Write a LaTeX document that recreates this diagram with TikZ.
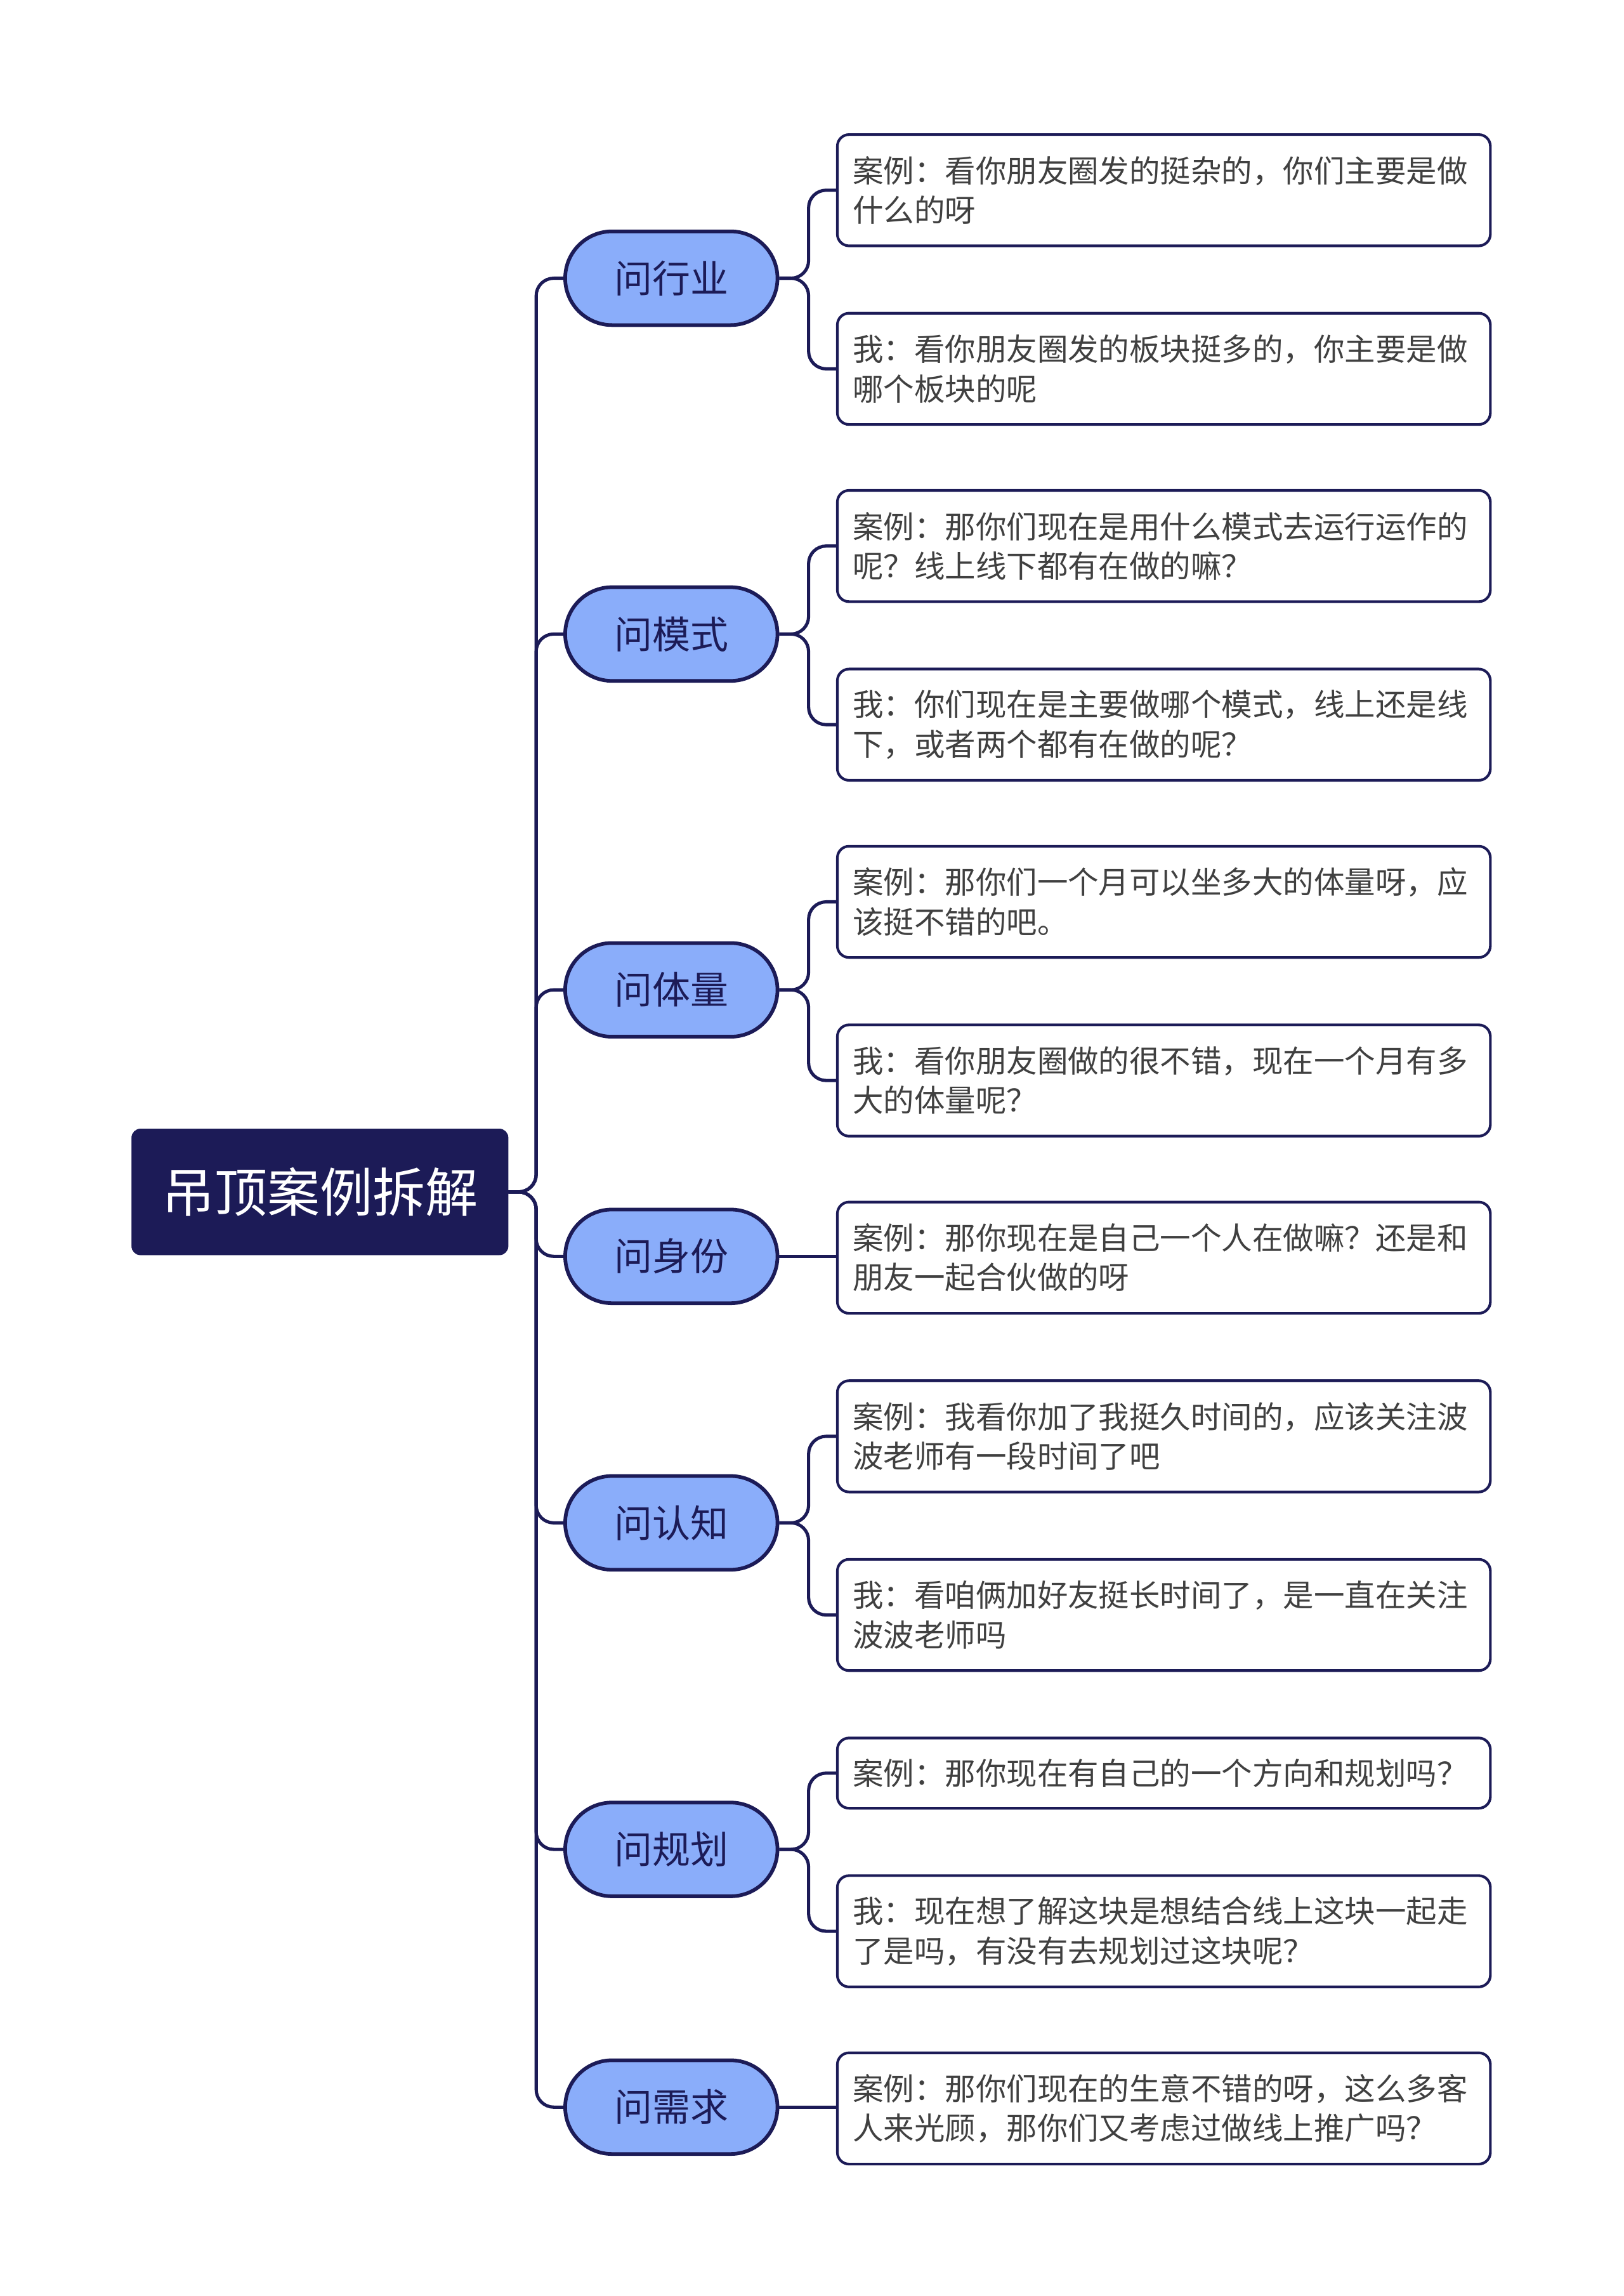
\documentclass[tikz,border=0pt]{standalone}
\usepackage{fontspec}
\setmainfont{Noto Sans CJK SC}
\definecolor{navy}{HTML}{1C1B57}
\definecolor{pill}{HTML}{8AADFA}
\tikzset{
 rootbox/.style={draw=navy,fill=navy,rounded corners=6pt,minimum width=257pt,minimum height=86pt,text=white,font=\fontsize{36}{40}\selectfont,inner sep=0pt},
 branchbox/.style={draw=navy,line width=2.5pt,fill=pill,rounded corners=32pt,minimum width=145pt,minimum height=64pt,text=navy,font=\fontsize{26}{30}\selectfont,inner sep=0pt},
 leafbox/.style={draw=navy,line width=1.8pt,fill=white,rounded corners=8pt,minimum width=446pt,text width=425pt,align=left,inner xsep=10pt,text=black!75,font=\fontsize{21}{27}\selectfont,anchor=north west},
 link/.style={draw=navy,line width=2.2pt,rounded corners=12pt}
}
\begin{document}
\begin{tikzpicture}[x=1pt,y=-1pt]
\useasboundingbox (0,0) rectangle (1109,1568);
\node[rootbox] (root) at (218.5,814) {吊顶案例拆解};
\foreach \n/\y/\t in {b1/190/问行业,b2/433/问模式,b3/676/问体量,b4/858/问身份,b5/1040/问认知,b6/1263/问规划,b7/1439/问需求}{
 \node[branchbox] (\n) at (458.5,\y) {\t};
 \draw[link] (root.east) -- ++(19,0) |- (\n.west);
}
\foreach \n/\y/\h/\t in {
 l1/91/76/{案例：看你朋友圈发的挺杂的，你们主要是做\\什么的呀},
 l2/213/76/{我：看你朋友圈发的板块挺多的，你主要是做\\哪个板块的呢},
 l3/334/76/{案例：那你们现在是用什么模式去运行运作的\\呢？线上线下都有在做的嘛？},
 l4/456/76/{我：你们现在是主要做哪个模式，线上还是线\\下，或者两个都有在做的呢？},
 l5/577/76/{案例：那你们一个月可以坐多大的体量呀，应\\该挺不错的吧。},
 l6/699/76/{我：看你朋友圈做的很不错，现在一个月有多\\大的体量呢？},
 l7/820/76/{案例：那你现在是自己一个人在做嘛？还是和\\朋友一起合伙做的呀},
 l8/942/76/{案例：我看你加了我挺久时间的，应该关注波\\波老师有一段时间了吧},
 l9/1064/76/{我：看咱俩加好友挺长时间了，是一直在关注\\波波老师吗},
 l10/1186/48/{案例：那你现在有自己的一个方向和规划吗？},
 l11/1280/76/{我：现在想了解这块是想结合线上这块一起走\\了是吗，有没有去规划过这块呢？},
 l12/1401/76/{案例：那你们现在的生意不错的呀，这么多客\\人来光顾，那你们又考虑过做线上推广吗？}}{
 \node[leafbox,minimum height=\h pt] (\n) at (571,\y) {\t};
}
\foreach \b/\l in {b1/l1,b1/l2,b2/l3,b2/l4,b3/l5,b3/l6,b5/l8,b5/l9,b6/l10,b6/l11}{
 \draw[link] (\b.east) -- ++(20,0) |- (\l.west);
}
\draw[link] (b4.east) -- (b4.east -| l7.west);
\draw[link] (b7.east) -- (b7.east -| l12.west);
\end{tikzpicture}
\end{document}
